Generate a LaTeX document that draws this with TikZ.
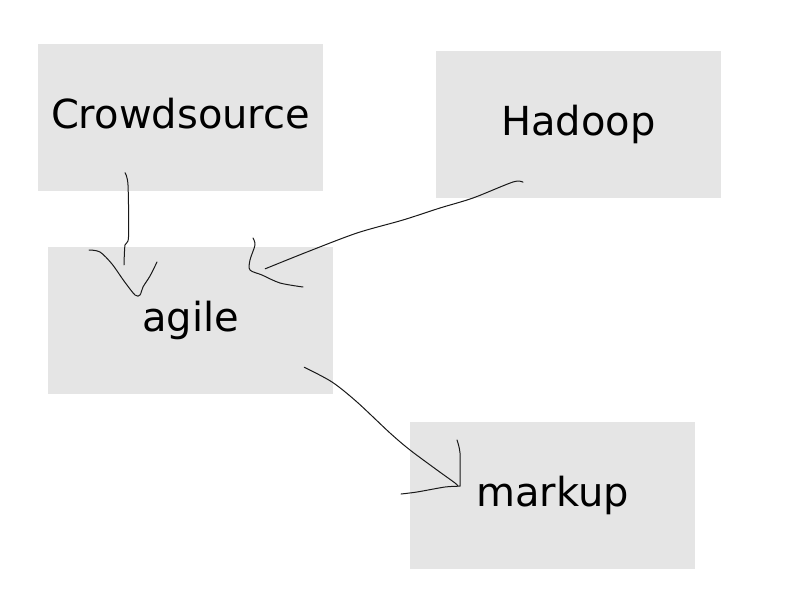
\documentclass[tikz,border=0pt]{standalone}
\usepackage{fontspec}
\setmainfont{DejaVu Sans}
\usetikzlibrary{calc}
\tikzset{
  card/.style={fill=black!10, draw=none, inner sep=0pt,
    minimum width=285bp, minimum height=147bp,
    text height=29bp, text depth=7bp,
    font=\fontsize{40bp}{48bp}\selectfont},
  pen/.style={line width=1bp, line join=round, line cap=round, black!90},
}
\begin{document}
\begin{tikzpicture}[x=1bp,y=-1bp]
  \useasboundingbox (0,0) rectangle (800,600);
%%
  % Node: Crowdsource
  \node[card] (crowd) at (180.5,117.5) {Crowdsource};
  % Node: Hadoop
  \node[card] (hadoop) at (578.5,124.5) {Hadoop};
  % Node: agile
  \node[card] (agile) at (190.5,320.5) {agile};
  % Node: markup
  \node[card] (markup) at (552.5,495.5) {markup};
%%
  \coordinate (crowd-tail) at ($(crowd.south)+(-55.5,-18.5)$);
  \coordinate (agile-tip1) at ($(agile.north)+(-66.5,18)$);
  \coordinate (hadoop-tail) at ($(hadoop.south)+(-55.5,-16)$);
  \coordinate (agile-tip2) at ($(agile.north east)+(-68,22)$);
  \coordinate (agile-tail) at ($(agile.south east)+(-29,-27)$);
  \coordinate (markup-tip) at ($(markup.west)+(48,-9.5)$);
  % Edge: Crowdsource -> agile
  \draw[pen] plot[smooth,tension=0.5] coordinates {(crowd-tail) (128,185) (128.5,237) (125,245) (agile-tip1)};
  \draw[pen] plot[smooth,tension=0.5] coordinates {(89,250) (100,252) (112,264) (124,281) (135,295) (140,295) (143,287) (150,276) (157,262)};
  % Edge: Hadoop -> agile
  \draw[pen] plot[smooth,tension=0.5] coordinates {(hadoop-tail) (513,182) (473,198) (440,208) (403,220) (357,233) (307,252) (agile-tip2)};
  \draw[pen] plot[smooth,tension=0.5] coordinates {(253,238) (255,245) (250,260) (250,270) (262,275) (280,283) (303,287)};
  % Edge: agile -> markup
  \draw[pen] plot[smooth,tension=0.5] coordinates {(agile-tail) (332,382) (357,402) (390,433) (410,450) (437,470) (455,483) (markup-tip)};
  \draw[pen] plot[smooth,tension=0.5] coordinates {(457,440) (460,453) (460,483) (459,486) (445,487) (417,492) (401,494)};
%
\end{tikzpicture}
\end{document}
